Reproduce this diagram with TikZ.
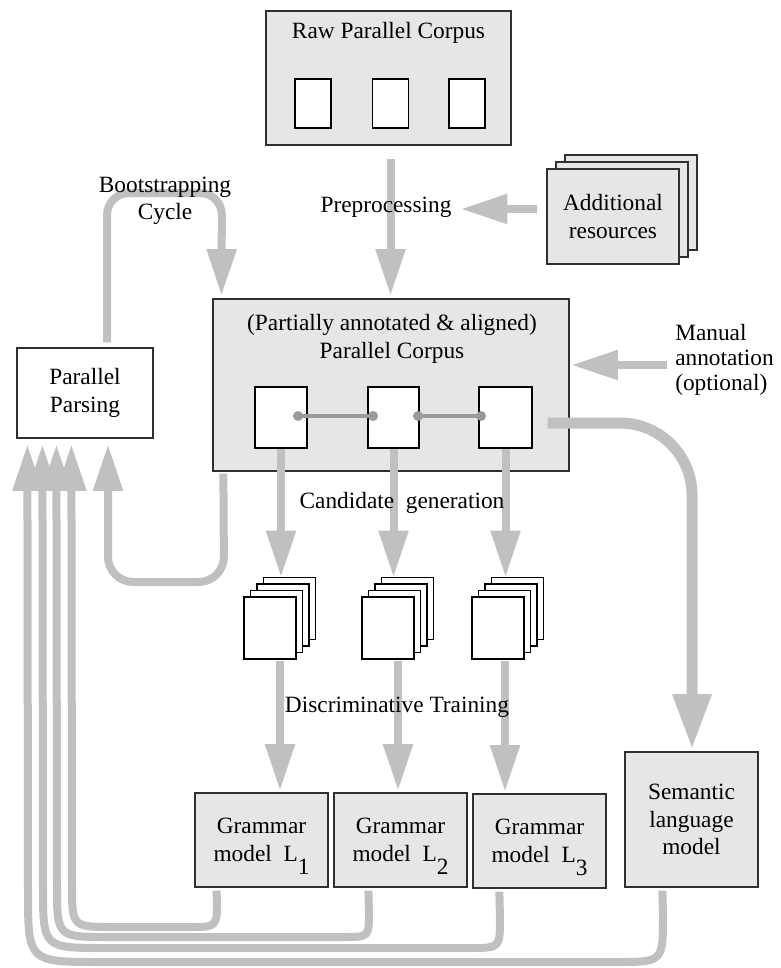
\documentclass[tikz,border=0pt]{standalone}
\usepackage{fontspec}
\setmainfont{Liberation Serif}
\usetikzlibrary{arrows.meta,calc}
\definecolor{boxgray}{HTML}{E6E6E6}
\definecolor{arrowgray}{HTML}{C0C0C0}
\definecolor{linkgray}{HTML}{9A9A9A}
\definecolor{edgegray}{HTML}{303030}
\newcommand\lsubscr[1]{\raisebox{-10pt}[0pt][0pt]{#1}}
\begin{document}
\begin{tikzpicture}[x=0.75pt,y=-0.75pt,
  sz/.style 2 args={minimum width=#1*0.75pt, minimum height=#2*0.75pt},
  box/.style={draw=edgegray, line width=0.9pt, fill=boxgray, inner sep=0pt,
    font=\fontsize{17.5}{20.5}\selectfont, align=center},
  wbox/.style={box, fill=white},
  page/.style={draw=black, line width=0.8pt, fill=white, inner sep=0pt},
  lbl/.style={font=\fontsize{17.5}{20.5}\selectfont, align=center, inner sep=0pt},
  link/.style={draw=linkgray, line width=3pt},
  garrow/.style={draw=arrowgray, line width=6pt,
    -{Triangle[length=34pt,width=23pt,line width=0pt]}},
  bigarrow/.style={draw=arrowgray, line width=8.25pt,
    -{Triangle[length=40pt,width=30pt,line width=0pt]}},
]
\useasboundingbox (0,0) rectangle (781,968);

% ---------- boxes ----------
\node[box, sz={245}{134}] (raw) at (388.5,78) {};
\node[page, sz={36}{49}] (r1) at (313,103.5) {};
\node[page, sz={36}{49}] (r2) at (390.5,103.5) {};
\node[page, sz={36}{49}] (r3) at (467,103.5) {};

\node[box, sz={132}{95}] (ar3) at (631,202.5) {};
\node[box, sz={132}{95}] (ar2) at (622,209.5) {};
\node[box, sz={132}{95}] (ar) at (613,216.5) {Additional\\resources};

\node[box, sz={356}{172}] (pc) at (391,385) {};
\node[page, sz={52}{61}] (d1) at (281,417.5) {};
\node[page, sz={51}{61}] (d2) at (393.5,417.5) {};
\node[page, sz={53}{61}] (d3) at (505.5,417.5) {};
\coordinate (k1) at (298,416);
\coordinate (k2) at (373,416);
\coordinate (k3) at (418,416);
\coordinate (k4) at (481,416);
\draw[link] (k1) -- (k2);
\draw[link] (k3) -- (k4);
\foreach \k in {k1,k2,k3,k4} \fill[linkgray] (\k) circle (3.75pt);

\node[wbox, sz={136}{90}] (pp) at (85,393) {Parallel\\Parsing};

\foreach \cx/\nm in {270/s1, 388/s2, 498/s3} {
  \node[page, sz={52}{62}] (\nm-c) at (\cx+19.5,608.5) {};
  \node[page, sz={52}{62}] (\nm-b) at (\cx+13,615) {};
  \node[page, sz={52}{62}] (\nm-a) at (\cx+6.5,621.5) {};
  \node[page, sz={52}{62}] (\nm) at (\cx,628) {};
}

\node[box, sz={133}{94}] (g1) at (261.5,840) {Grammar\\model\ \ L\lsubscr{1}};
\node[box, sz={133}{94}] (g2) at (400.5,840) {Grammar\\model\ \ L\lsubscr{2}};
\node[box, sz={133}{94}] (g3) at (539.5,841) {Grammar\\model\ \ L\lsubscr{3}};
\node[box, sz={133}{135}] (sem) at (691.5,819.5) {Semantic\\language\\model};

% ---------- arrows ----------
\draw[garrow, shorten <=9.75pt, shorten >=3pt] (raw.south -| r2.south) -- (pc.north -| r2.south);
\coordinate (prepT) at (462,209);
\draw[garrow, shorten <=6.75pt] (ar.west |- prepT) -- (prepT);

\draw[garrow, rounded corners=16.5pt] ($(pp.north)+(22,-5)$) -- (107,193) -- (222,193) -- ($(pc.north west)+(9,-4)$);
\draw[garrow, rounded corners=19pt] ($(pc.south west)+(11,2)$) -- (224,582) -- (108,582) -- ($(pp.south)+(23,7)$);

\coordinate (manS) at (667,365);
\draw[garrow, shorten >=2.25pt] (manS) -- (manS -| pc.east);

\draw[bigarrow, rounded corners=54pt] ($(pc.east)+(-22,38)$) -- (692,423) -- ($(sem.north)+(0.5,-4)$);

\draw[garrow, shorten >=0.75pt] (d1.south) -- (d1.south |- s1-c.north);
\draw[garrow, shorten >=0.75pt] (d2.south) -- (d2.south |- s2-c.north);
\draw[garrow, shorten >=0.75pt] (d3.south) -- (d3.south |- s3-c.north);

\coordinate (t1) at ($(s1.south)+(10,1)$);
\coordinate (t2) at ($(s2.south)+(10,1)$);
\coordinate (t3) at ($(s3.south)+(7,1)$);
\draw[garrow, shorten >=2.25pt] (t1) -- (t1 |- g1.north);
\draw[garrow, shorten >=2.25pt] (t2) -- (t2 |- g2.north);
\draw[garrow, shorten >=2.25pt] (t3) -- (t3 |- g3.north);

\coordinate (b1) at ($(g1.south west)+(22,3)$);
\coordinate (b2) at ($(g2.south west)+(35,3)$);
\coordinate (b3) at ($(g3.south west)+(27,3)$);
\coordinate (b4) at ($(sem.south west)+(38,3)$);
\coordinate (e1) at ($(pp.south west)+(55,7)$);
\coordinate (e2) at ($(pp.south west)+(40,7)$);
\coordinate (e3) at ($(pp.south west)+(26,7)$);
\coordinate (e4) at ($(pp.south west)+(11,7)$);
\draw[garrow] (b1) -- (217,899) .. controls (217,927) .. (189,927) -- (114,927) .. controls (72,927) .. (72,885) -- (e1);
\draw[garrow] (b2) -- (369,912) .. controls (369,937) .. (344,937) -- (109,937) .. controls (57,937) .. (57,885) -- (e2);
\draw[garrow] (b3) -- (500,918) .. controls (500,948) .. (470,948) -- (105,948) .. controls (43,948) .. (43,886) -- (e3);
\draw[garrow] (b4) -- (663,915) .. controls (663,962) .. (616,962) -- (100,962) .. controls (28,962) .. (28,890) -- (e4);

% ---------- labels ----------
\node[lbl] (rawt) at (388.5,33) {Raw Parallel Corpus};
\node[lbl] (pct) at (392,339) {(Partially annotated \& aligned)\\Parallel Corpus};
\node[lbl] (prep) at (386,207) {Preprocessing};
\node[lbl] (boot) at (165,201) {Bootstrapping\\Cycle};
\node[lbl, align=left, anchor=west, font=\fontsize{17.5}{19}\selectfont] (man) at (675,360) {Manual\\annotation\\(optional)};
\node[lbl] (cand) at (402,503) {Candidate\ \ generation};
\node[lbl] (disc) at (397,707) {Discriminative Training};
\end{tikzpicture}
\end{document}
